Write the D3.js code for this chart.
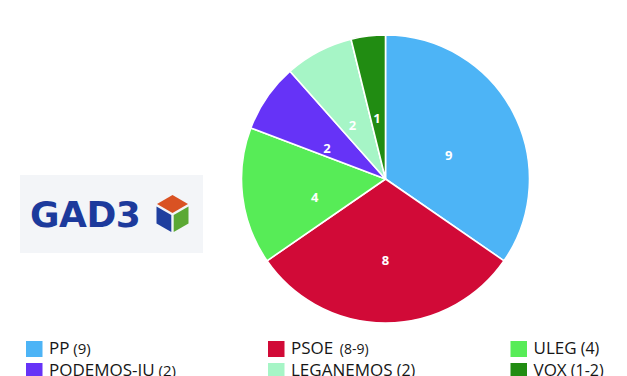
<!DOCTYPE html>
<html>
<head>
<meta charset="utf-8">
<script src="https://cdn.jsdelivr.net/npm/d3@7"></script>
<style>
  html, body { margin: 0; padding: 0; background: #ffffff; }
  svg { display: block; }
</style>
</head>
<body>
<svg id="chart" width="627" height="376"></svg>
<script>
// ---- Data ----
const parties = ["PP", "PSOE", "ULEG", "PODEMOS-IU", "LEGANEMOS", "VOX"];
const seats = [9, 8, 4, 2, 2, 1];
const ranges = ["(9)", "(8-9)", "(4)", "(2)", "(2)", "(1-2)"];
const colors = ["#4db4f6", "#d10a37", "#57ec57", "#6633f7", "#a6f5c6", "#218c12"];

const W = 627, H = 376;
const svg = d3.select("#chart");
svg.append("rect").attr("width", W).attr("height", H).attr("fill", "#ffffff");

// ---- Logo (decoration) ----
const logo = svg.append("g");
logo.append("rect").attr("x", 20).attr("y", 175).attr("width", 183).attr("height", 78).attr("fill", "#f3f5f8");
logo.append("text").attr("x", 30).attr("y", 227)
  .attr("font-family", "DejaVu Sans").attr("font-weight", 700).attr("font-size", 36)
  .attr("fill", "#1c3a9c").attr("letter-spacing", "-0.5").text("GAD3");
const cx0 = 172.5;
logo.append("path").attr("d", `M${cx0},195 L${cx0+15.5},204 L${cx0},213 L${cx0-15.5},204 Z`).attr("fill", "#d95223");
logo.append("path").attr("d", `M${cx0-16},206.5 L${cx0-1.2},215 L${cx0-1.2},232 L${cx0-16},223.5 Z`).attr("fill", "#1f3f9f");
logo.append("path").attr("d", `M${cx0+1.2},215 L${cx0+16},206.5 L${cx0+16},223.5 L${cx0+1.2},232 Z`).attr("fill", "#5ba834");

// ---- Pie ----
const cx = 385.5, cy = 179, R = 144;
const pie = d3.pie().sort(null).value(d => d)(seats);
const arc = d3.arc().innerRadius(0).outerRadius(R);
const labelArc = d3.arc().innerRadius(0).outerRadius(R * 0.99);
const g = svg.append("g").attr("transform", `translate(${cx},${cy})`);
g.selectAll("path.slice").data(pie).join("path")
  .attr("class", "slice")
  .attr("d", arc)
  .attr("fill", (d, i) => colors[i])
  .attr("stroke", "#ffffff").attr("stroke-width", 1.6).attr("stroke-linejoin", "round");
g.selectAll("text.val").data(pie).join("text")
  .attr("class", "val")
  .attr("x", d => labelArc.centroid(d)[0])
  .attr("y", d => labelArc.centroid(d)[1] + 14.5)
  .attr("text-anchor", "middle")
  .attr("font-family", "Open Sans").attr("font-weight", 700).attr("font-size", 13)
  .attr("fill", "#ffffff")
  .text(d => d.data);

// ---- Legend ----
const colX = d3.scaleOrdinal().domain([0, 1, 2]).range([26, 268, 510.5]);
const rowY = d3.scaleOrdinal().domain([0, 1]).range([341, 363]);
const subSize = [15, 14, 16, 15, 16, 16];
const leg = svg.append("g");
parties.forEach((p, i) => {
  const col = i % 3, row = Math.floor(i / 3);
  const x = colX(col), y = rowY(row);
  leg.append("rect").attr("x", x).attr("y", y).attr("width", 16.5).attr("height", 16).attr("fill", colors[i]);
  const t = leg.append("text")
    .attr("x", x + 23).attr("y", y + 13.3)
    .attr("font-family", "Open Sans").attr("font-size", 17).attr("fill", "#161616");
  t.append("tspan").text(p);
  t.append("tspan").attr("font-size", subSize[i]).attr("dx", i === 1 ? 3 : 0).text(" " + ranges[i]);
});
</script>
</body>
</html>
